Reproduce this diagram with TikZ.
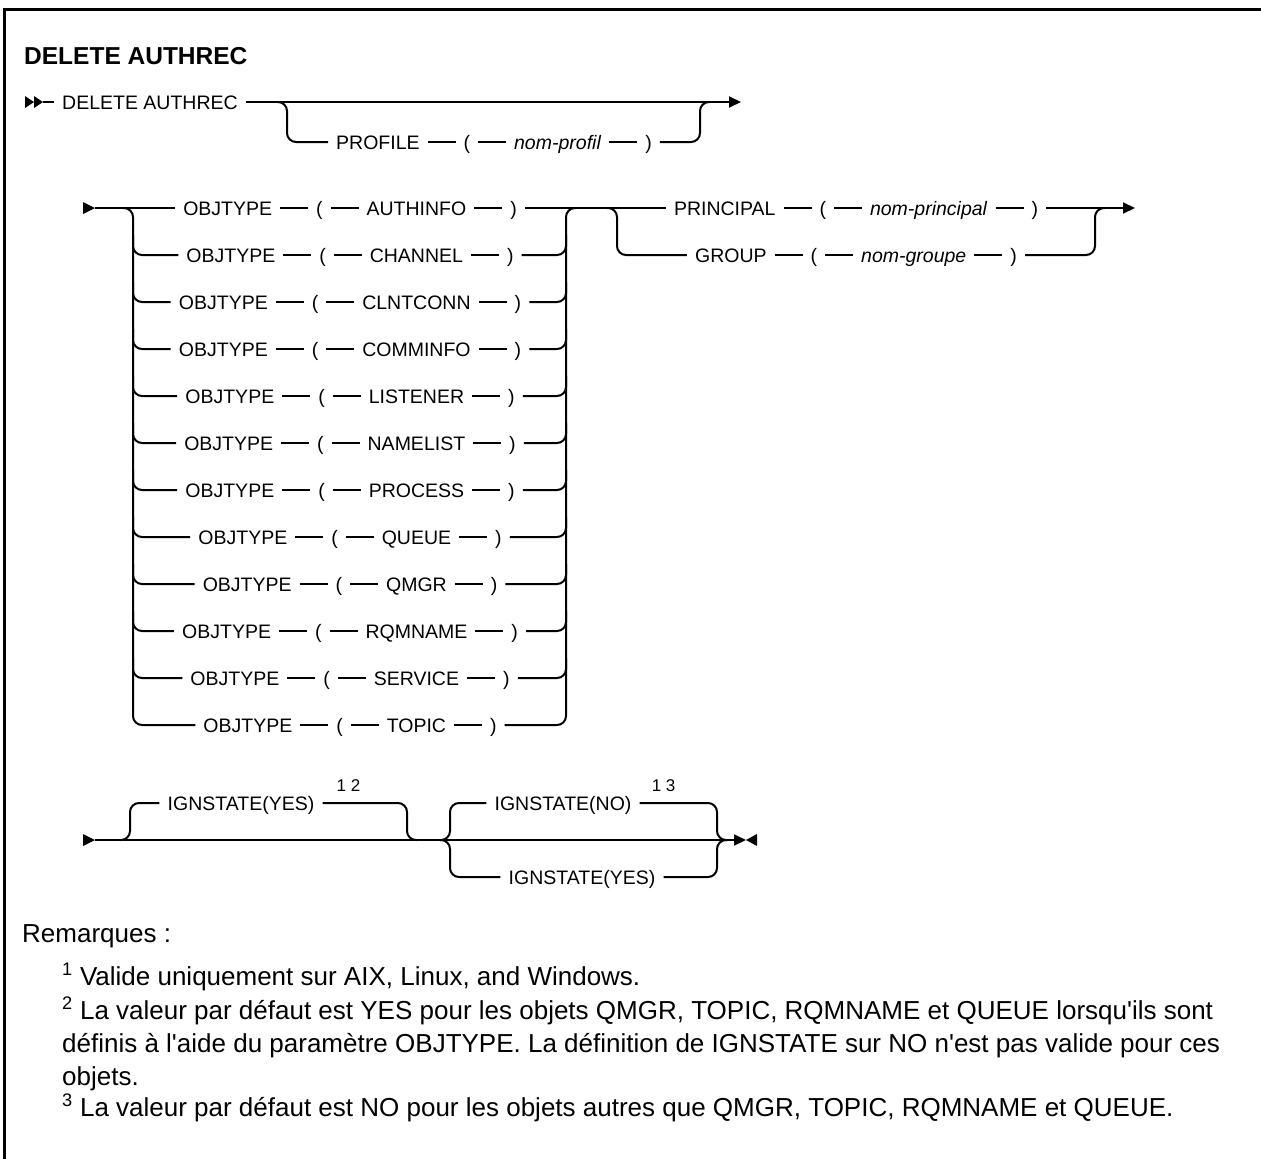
\documentclass[tikz,border=0pt]{standalone}
\usepackage{fontspec}
\setmainfont{Liberation Sans}
\usetikzlibrary{arrows.meta,calc}

\newcommand{\diagfont}{\fontsize{19.5}{22}\selectfont}
\newcommand{\notefont}{\fontsize{26}{31}\selectfont}
\newcommand{\railseg}{\hspace{8pt}\rule[6pt]{28pt}{2pt}\hspace{8pt}}

\tikzset{
  rail/.style={line width=2pt, rounded corners=9pt},
  tok/.style={font=\diagfont, inner xsep=8pt, inner ysep=0pt, text height=14pt, text depth=0pt},
  fn/.style={font=\fontsize{17}{19}\selectfont, inner sep=0pt, anchor=base west},
  notetext/.style={font=\notefont, inner sep=0pt, anchor=base west},
  endarrow/.style={-{Triangle[length=12pt,width=11pt]}}
}

\begin{document}
\begin{tikzpicture}[x=1pt,y=-1pt]
\useasboundingbox (0,0) rectangle (1261,1159);

% Frame
\draw[line width=3pt] (1261,9) -- (4,9) -- (4,1159);

% Title
\node[anchor=base west, inner sep=0pt, font=\fontsize{24.5}{28}\selectfont\bfseries] (title) at (24,64) {DELETE AUTHREC};

% Row 1: command and optional profile
\begin{scope}
  \fill (25,96) -- (34,102) -- (25,108) -- cycle;
  \fill (34,96) -- (43,102) -- (34,108) -- cycle;
  \coordinate (start1) at (43,102);
  \coordinate (end1) at (741,102);
  \coordinate (pl) at (287,102);
  \coordinate (pr) at (700,102);

  \node[tok, anchor=west] (delauth) at (54,102) {DELETE AUTHREC};
  \node[tok] (prof) at (494,142) {PROFILE\railseg(\railseg\textit{nom-profil}\railseg)};

  \draw[rail] (start1) -- (delauth.west);
  \draw[rail, endarrow] (delauth.east) -- (end1);
  \draw[rail] ([xshift=-10pt]pl) -| (pl |- prof.west) -- (prof.west);
  \draw[rail] (prof.east) -| (pr) -- ([xshift=10pt]pr);
\end{scope}

% Row 2: object types, then principal or group
\begin{scope}
  \fill (83,202) -- (95,208) -- (83,214) -- cycle;
  \coordinate (start2) at (95,208);
  \coordinate (sl) at (133,208);
  \coordinate (sr) at (566,208);
  \coordinate (gl) at (617,208);
  \coordinate (gr) at (1095,208);
  \coordinate (end2) at (1135,208);

  \foreach \nm [count=\i from 0] in {AUTHINFO,CHANNEL,CLNTCONN,COMMINFO,LISTENER,NAMELIST,PROCESS,QUEUE,QMGR,RQMNAME,SERVICE,TOPIC}
    \node[tok] (obj\i) at (350,{208+47*\i}) {OBJTYPE\railseg(\railseg \nm\railseg)};

  % stack rails
  \draw[rail] (start2) -- (obj0.west);
  \draw[rail] ([xshift=-10pt]sl) -| (sl |- obj11.west) -- (obj11.west);
  \draw[rail] (obj11.east) -| (sr) -- ([xshift=10pt]sr);
  \foreach \i in {1,...,10}{
    \draw[rail] ($(sl |- obj\i.west)+(0,-20)$) |- (obj\i.west);
    \draw[rail] (obj\i.east) -| ($(sr |- obj\i.east)+(0,-20)$);
  }

  \node[tok] (prin) at (856,208) {PRINCIPAL\railseg(\railseg\textit{nom-principal}\railseg)};
  \node[tok] (grp) at (856,255) {GROUP\railseg(\railseg\textit{nom-groupe}\railseg)};

  \draw[rail] (obj0.east) -- (prin.west);
  \draw[rail, endarrow] (prin.east) -- (end2);
  \draw[rail] ([xshift=-10pt]gl) -| (gl |- grp.west) -- (grp.west);
  \draw[rail] (grp.east) -| (gr) -- ([xshift=10pt]gr);
\end{scope}

% Row 3: IGNSTATE
\begin{scope}
  \fill (83,834) -- (95,840) -- (83,846) -- cycle;
  \coordinate (start3) at (95,840);
  \coordinate (end3) at (746,840);
  \coordinate (al) at (130,840);
  \coordinate (ar) at (407,840);
  \coordinate (bl) at (450,840);
  \coordinate (br) at (717,840);

  \node[tok] (ignyes) at (241,803) {IGNSTATE(YES)};
  \node[tok] (ignno) at (563,803) {IGNSTATE(NO)};
  \node[tok] (ignyesb) at (582,877) {IGNSTATE(YES)};
  \node[fn] (fn12) at ($(ignyes.east)+(14,-12)$) {1 2};
  \node[fn] (fn13) at ($(ignno.east)+(12,-12)$) {1 3};

  \draw[rail, endarrow] (start3) -- (end3);
  \fill (757,834) -- (746,840) -- (757,846) -- cycle;

  \draw[rail] ([xshift=-10pt]al) -| (al |- ignyes.west) -- (ignyes.west);
  \draw[rail] (ignyes.east) -| (ar) -- ([xshift=10pt]ar);

  \draw[rail] ([xshift=-10pt]bl) -| (bl |- ignno.west) -- (ignno.west);
  \draw[rail] ([xshift=-10pt]bl) -| (bl |- ignyesb.west) -- (ignyesb.west);
  \draw[rail] (ignno.east) -| (br) -- ([xshift=10pt]br);
  \draw[rail] (ignyesb.east) -| (br) -- ([xshift=10pt]br);
\end{scope}

% Notes
\node[notetext] (rem) at (22,942) {Remarques :};
\node[notetext] (n1) at (62,985) {\textsuperscript{1} Valide uniquement sur AIX, Linux, and Windows.};
\node[notetext] (n2a) at (62,1019) {\textsuperscript{2} La valeur par défaut est YES pour les objets QMGR, TOPIC, RQMNAME et QUEUE lorsqu\textquotesingle ils sont};
\node[notetext] (n2b) at (62,1052) {définis à l\textquotesingle aide du paramètre OBJTYPE. La définition de IGNSTATE sur NO n\textquotesingle est pas valide pour ces};
\node[notetext] (n2c) at (62,1085) {objets.};
\node[notetext] (n3) at (62,1116) {\textsuperscript{3} La valeur par défaut est NO pour les objets autres que QMGR, TOPIC, RQMNAME et QUEUE.};
\end{tikzpicture}
\end{document}
